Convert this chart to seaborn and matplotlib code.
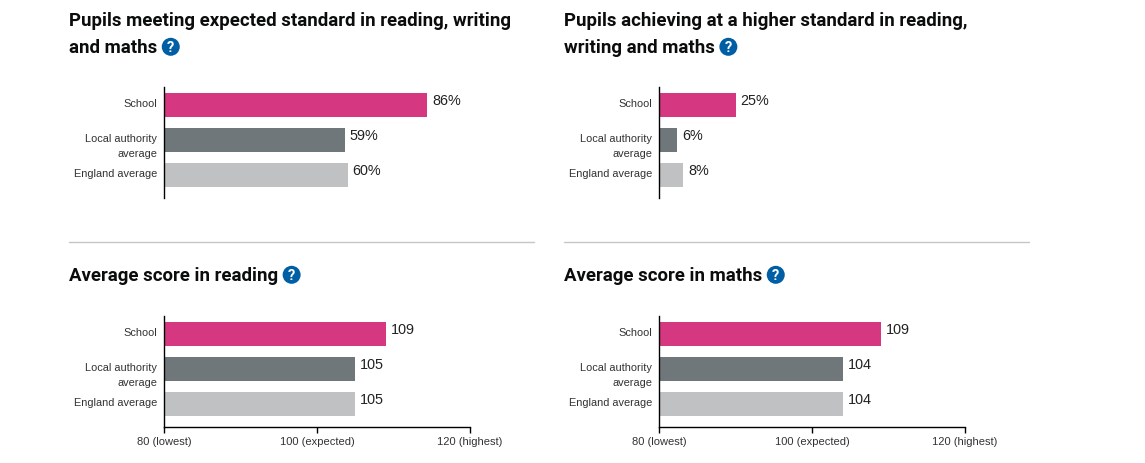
import matplotlib
matplotlib.use('Agg')
import matplotlib.pyplot as plt
import matplotlib.transforms as mtrans
import pandas as pd
import seaborn as sns

categorias = ['School', 'Local authority\naverage', 'England average']
cores = ['#d53880', '#6f777b', '#bfc1c3']

esperado = [86, 59, 60]
superior = [25, 6, 8]
leitura = [109, 105, 105]
matematica = [109, 104, 104]

ticks_nota = [80, 100, 120]
ticks_rotulos = ['80 (lowest)', '100 (expected)', '120 (highest)']

titulo_esperado = ['Pupils meeting expected standard in reading, writing', 'and maths']
titulo_superior = ['Pupils achieving at a higher standard in reading,', 'writing and maths']
titulo_leitura = ['Average score in reading']
titulo_matematica = ['Average score in maths']

sns.set_theme(style='white')
plt.rcParams['font.family'] = ['Liberation Sans', 'DejaVu Sans']

W, H = 1145, 464
fig = plt.figure(figsize=(W / 100, H / 100), dpi=100)

# camada em pixels para titulos, icones e separadores
fundo = fig.add_axes([0, 0, 1, 1])
fundo.set_xlim(0, W)
fundo.set_ylim(H, 0)
fundo.axis('off')


def painel(x0, y_topo, valores, sufixo, nota=False):
    ax = fig.add_axes([x0 / W, 1 - (y_topo + 111) / H, 306 / W, 111 / H])
    df = pd.DataFrame({'cat': categorias, 'valor': valores})
    sns.barplot(data=df, y='cat', x='valor', hue='cat', palette=cores, saturation=1,
                width=24 / 35, legend=False, linewidth=0, ax=ax)
    ax.set_ylim(2 + 23 / 35, -18 / 35)
    ax.set_xlabel('')
    ax.set_ylabel('')
    sns.despine(ax=ax, top=True, right=True, bottom=not nota)
    for s in ax.spines.values():
        s.set_color('black')
        s.set_linewidth(1)

    if nota:
        ax.set_xlim(80, 120)
        ax.set_xticks(ticks_nota)
        ax.set_xticklabels(ticks_rotulos, fontsize=8, color='#333333')
        ax.tick_params(axis='x', length=4, width=1, color='black', pad=3, bottom=True)
    else:
        ax.set_xlim(0, 100)
        ax.set_xticks([])

    ax.tick_params(axis='y', length=0, pad=5)
    desloca = mtrans.ScaledTranslation(0, 6.5 / 100, fig.dpi_scale_trans)
    for lab in ax.get_yticklabels():
        lab.set_fontsize(7.9)
        lab.set_color('#333333')
        lab.set_va('top')
        lab.set_ha('right')
        lab.set_linespacing(1.65)
        lab.set_transform(lab.get_transform() + desloca)

    for i, v in enumerate(valores):
        ax.annotate(f'{v}{sufixo}', (v, i), xytext=(3.6, 3.2), textcoords='offset points',
                    ha='left', va='center', fontsize=10.4, color='#222222')
    return ax


def titulo(x, y, linhas):
    fim = None
    for i, linha in enumerate(linhas):
        fim = fundo.text(x, y + i * 27, linha, fontsize=13.4, fontweight='bold',
                         family='Roboto', color='#0b0c0c', ha='left', va='center')
    fig.canvas.draw()
    caixa = fim.get_window_extent().transformed(fundo.transData.inverted())
    cx = caixa.x1 + 13.5
    cy = y + (len(linhas) - 1) * 27
    fundo.add_patch(plt.Circle((cx, cy), 9, color='#005ea5', lw=0))
    fundo.text(cx, cy + 0.5, '?', color='white', fontsize=10.5, fontweight='bold',
               ha='center', va='center', family='Roboto')


titulo(69, 20.8, titulo_esperado)
titulo(564, 20.8, titulo_superior)
titulo(69, 275.8, titulo_leitura)
titulo(564, 275.8, titulo_matematica)

fundo.plot([69, 534], [242.5, 242.5], color='#c4c6c8', lw=1)
fundo.plot([564, 1029], [242.5, 242.5], color='#c4c6c8', lw=1)

painel(164, 87.5, esperado, '%')
painel(659, 87.5, superior, '%')
painel(164, 316.5, leitura, '', nota=True)
painel(659, 316.5, matematica, '', nota=True)

fig.savefig('out.png', dpi=100, facecolor='white')
